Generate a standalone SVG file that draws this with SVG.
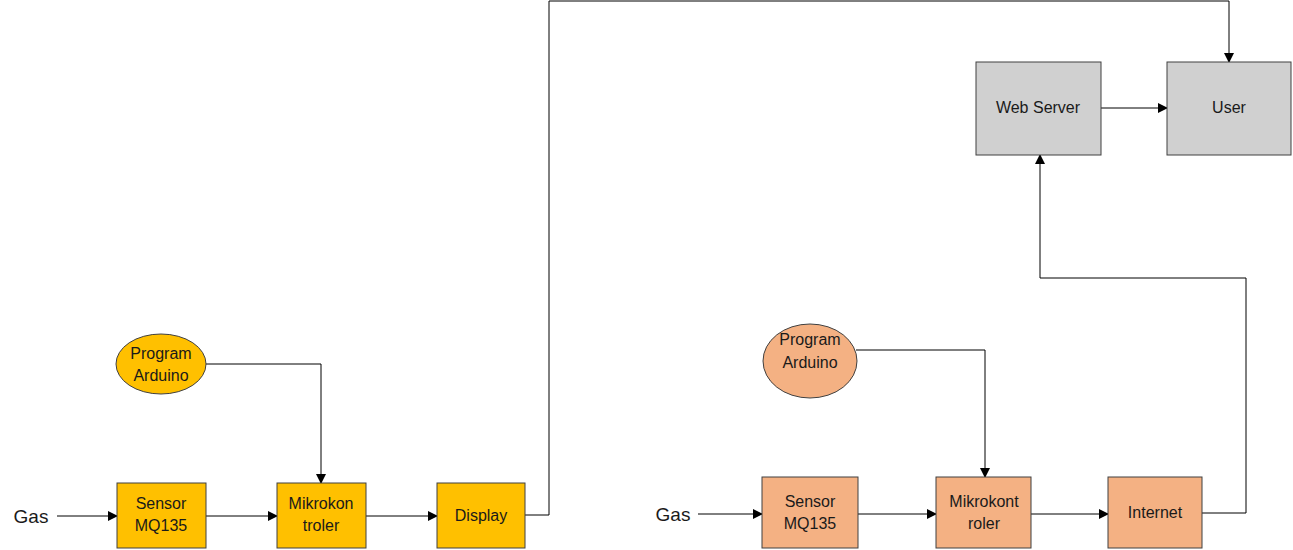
<svg xmlns="http://www.w3.org/2000/svg" width="1293" height="550" viewBox="0 0 1293 550">
<defs>
<marker id="arr" markerWidth="10" markerHeight="10" refX="9" refY="5" orient="auto" markerUnits="userSpaceOnUse">
<path d="M0,0 L10,5 L0,10 Z" fill="#000"/>
</marker>
<style>
.y{fill:#ffc000;stroke:#404040;stroke-width:1}
.o{fill:#f4b183;stroke:#404040;stroke-width:1}
.g{fill:#d0d0d0;stroke:#404040;stroke-width:1}
text{font-family:"Liberation Sans",Arial,sans-serif;font-size:16px;fill:#1a1a1a;text-anchor:middle}
.big{font-size:19px}
.c{fill:none;stroke:#000;stroke-width:1;marker-end:url(#arr)}
</style>
</defs>
<rect width="1293" height="550" fill="#fff"/>
<g id="connectors">
<path class="c" d="M57,516 H117"/>
<path class="c" d="M206,516 H277"/>
<path class="c" d="M366,516 H437"/>
<path class="c" d="M206,364 H321 V483"/>
<path class="c" d="M525,515 H549 V1 H1229 V62"/>
<path class="c" d="M698,514 H762"/>
<path class="c" d="M858,514 H936"/>
<path class="c" d="M1031,514 H1108"/>
<path class="c" d="M856,350 H985 V477"/>
<path class="c" d="M1202,513 H1246 V278 H1040 V155"/>
<path class="c" d="M1101,108 H1167"/>
</g>
<g id="gas1"><text class="big" x="31" y="523">Gas</text></g>
<g id="sensor1"><rect class="y" x="117" y="483" width="89" height="65"/><text x="161" y="509">Sensor</text><text x="161" y="531">MQ135</text></g>
<g id="mikro1"><rect class="y" x="277" y="483" width="89" height="65"/><text x="321" y="509">Mikrokon</text><text x="321" y="531">troler</text></g>
<g id="display"><rect class="y" x="437" y="483" width="88" height="65"/><text x="481" y="521">Display</text></g>
<g id="prog1"><ellipse class="y" cx="161" cy="364" rx="45" ry="30"/><text x="161" y="359">Program</text><text x="161" y="381">Arduino</text></g>
<g id="gas2"><text class="big" x="673" y="521">Gas</text></g>
<g id="sensor2"><rect class="o" x="762" y="477" width="96" height="71"/><text x="810" y="507">Sensor</text><text x="810" y="529">MQ135</text></g>
<g id="mikro2"><rect class="o" x="936" y="477" width="95" height="71"/><text x="984" y="507">Mikrokont</text><text x="984" y="529">roler</text></g>
<g id="internet"><rect class="o" x="1108" y="477" width="94" height="71"/><text x="1155" y="518">Internet</text></g>
<g id="prog2"><ellipse class="o" cx="810" cy="361" rx="47" ry="37"/><text x="810" y="345">Program</text><text x="810" y="368">Arduino</text></g>
<g id="webserver"><rect class="g" x="976" y="62" width="125" height="93"/><text x="1038" y="113">Web Server</text></g>
<g id="user"><rect class="g" x="1167" y="62" width="124" height="93"/><text x="1229" y="113">User</text></g>
</svg>
